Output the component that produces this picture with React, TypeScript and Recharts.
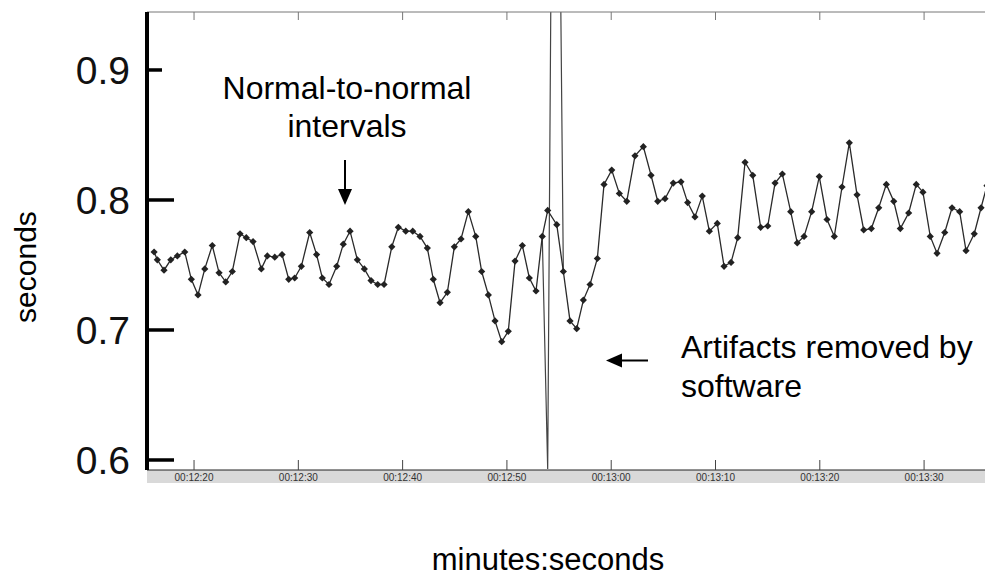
import React from "react";
import { LineChart, Line, XAxis, YAxis } from "recharts";

// beat times in seconds (12:20 = 740 s) and NN interval lengths in seconds
const beatTimes = [
  736.17, 736.48, 737.12, 737.77, 738.4, 739.11, 739.74, 740.38, 741.03, 741.75,
  742.4, 743.04, 743.67, 744.41, 745.01, 745.66, 746.45, 747.03, 747.74, 748.44,
  749.08, 749.65, 750.29, 751.09, 751.75, 752.3, 752.94, 753.68, 754.31, 754.96,
  755.66, 756.33, 756.97, 757.61, 758.22, 758.96, 759.59, 760.3, 760.97, 761.67,
  762.37, 762.94, 763.59, 764.29, 764.96, 765.6, 766.3, 767.01, 767.58, 768.22,
  768.86, 769.5, 770.13, 770.78, 771.48, 772.15, 772.79, 773.39, 773.91, 774.78,
  775.41, 776.05, 776.69, 777.33, 777.97, 778.67, 779.31, 780.05, 780.78, 781.49,
  782.28, 783.08, 783.82, 784.46, 785.16, 785.95, 786.69, 787.33, 788.03, 788.73,
  789.41, 790.17, 790.82, 791.49, 792.13, 792.83, 793.57, 794.33, 795.01, 795.71,
  796.41, 797.21, 797.84, 798.49, 799.22, 799.95, 800.69, 801.39, 802.13, 802.83,
  803.57, 804.21, 804.94, 805.65, 806.38, 807.09, 807.72, 808.52, 809.25, 809.89,
  810.59, 811.24, 811.98, 812.68, 813.41, 814.02, 814.81, 815.46, 816.03,
];
const nnIntervals = [
  0.76, 0.754, 0.746, 0.754, 0.757, 0.76, 0.739, 0.727, 0.747, 0.765,
  0.744, 0.737, 0.745, 0.774, 0.771, 0.768, 0.747, 0.757, 0.756, 0.758,
  0.739, 0.74, 0.749, 0.775, 0.758, 0.74, 0.735, 0.749, 0.766, 0.776,
  0.754, 0.747, 0.738, 0.735, 0.735, 0.764, 0.779, 0.776, 0.776, 0.772,
  0.763, 0.739, 0.721, 0.729, 0.764, 0.77, 0.791, 0.772, 0.745, 0.727,
  0.707, 0.691, 0.699, 0.753, 0.765, 0.74, 0.73, 0.772, 0.792, 0.781,
  0.745, 0.707, 0.701, 0.723, 0.735, 0.755, 0.812, 0.823, 0.805, 0.799,
  0.834, 0.841, 0.819, 0.799, 0.801, 0.813, 0.814, 0.798, 0.787, 0.803,
  0.776, 0.782, 0.749, 0.752, 0.771, 0.829, 0.819, 0.779, 0.78, 0.813,
  0.82, 0.791, 0.767, 0.772, 0.791, 0.818, 0.785, 0.772, 0.81, 0.844,
  0.804, 0.777, 0.778, 0.794, 0.812, 0.799, 0.778, 0.79, 0.812, 0.806,
  0.772, 0.759, 0.775, 0.794, 0.791, 0.761, 0.774, 0.794, 0.811,
];

// the uncorrected artifact beat
const rawTimes = [773.39, 773.91, 774.6, 775.41];
const rawIntervals = [0.772, 0.593, 1.42, 0.745];

const xTicks = [740, 750, 760, 770, 780, 790, 800, 810];
const yTicks = [0.6, 0.7, 0.8, 0.9];

const nnData = beatTimes.map((t, i) => ({ t, v: nnIntervals[i] }));
const rawData = rawTimes.map((t, i) => ({ t, v: rawIntervals[i] }));

const FONT = "'Liberation Sans', Arial, sans-serif";

function fmtTime(s: number) {
  const m = Math.floor(s / 60);
  const sec = Math.round(s - m * 60);
  return `00:${m}:${String(sec).padStart(2, "0")}`;
}

function BottomTick(props: any) {
  const { x, y, payload } = props;
  return (
    <g>
      <line x1={x} x2={x} y1={y - 10} y2={y} stroke="#444" strokeWidth={1} />
      <text x={x} y={y + 11} textAnchor="middle" fontSize={10} fill="#333" fontFamily={FONT}>
        {fmtTime(payload.value)}
      </text>
    </g>
  );
}

function TopTick(props: any) {
  const { x, y } = props;
  return <line x1={x} x2={x} y1={y} y2={y + 8} stroke="#777" strokeWidth={1} />;
}

function LeftTick(props: any) {
  const { x, y, payload } = props;
  const len = payload.value > 0.85 ? 15 : 27;
  return (
    <g>
      <line x1={x} x2={x + len} y1={y} y2={y} stroke="#000" strokeWidth={3.5} />
      <text x={x - 17} y={y} dy="0.36em" textAnchor="end" fontSize={39} fill="#111" fontFamily={FONT}>
        {payload.value.toFixed(1)}
      </text>
    </g>
  );
}

function Diamond(props: any) {
  const { cx, cy, index } = props;
  if (cx == null || cy == null) return <g key={`d-${index}`} />;
  const r = 3.6;
  return (
    <polygon
      key={`d-${index}`}
      points={`${cx},${cy - r} ${cx + r},${cy} ${cx},${cy + r} ${cx - r},${cy}`}
      fill="#222"
    />
  );
}

export default function App() {
  return (
    <div style={{ position: "relative", width: 985, height: 577, background: "#fff", overflow: "hidden" }}>
      <style>{"body{margin:0}"}</style>
      <svg width={985} height={577} style={{ position: "absolute", left: 0, top: 0 }}>
        <rect x={147} y={470} width={838} height={13} fill="#d9d9d9" />
      </svg>
      <div style={{ position: "absolute", left: 0, top: 0 }}>
        <LineChart width={985} height={577} margin={{ top: 0, right: 0, bottom: 0, left: 0 }}>
          <XAxis
            xAxisId="top"
            orientation="top"
            type="number"
            dataKey="t"
            domain={[735.49, 815.84]}
            allowDataOverflow
            ticks={xTicks}
            height={12}
            tickSize={0}
            tickMargin={0}
            tickLine={false}
            tick={<TopTick />}
            axisLine={{ stroke: "#777", strokeWidth: 1 }}
          />
          <XAxis
            type="number"
            dataKey="t"
            domain={[735.49, 815.84]}
            allowDataOverflow
            ticks={xTicks}
            height={107}
            tickSize={0}
            tickMargin={0}
            tickLine={false}
            tick={<BottomTick />}
            axisLine={{ stroke: "#222", strokeWidth: 1 }}
          />
          <YAxis
            type="number"
            domain={[0.5923, 0.9446]}
            allowDataOverflow
            ticks={yTicks}
            width={147}
            tickSize={0}
            tickMargin={0}
            tickLine={false}
            tick={<LeftTick />}
            axisLine={{ stroke: "#000", strokeWidth: 4 }}
          />
          <Line
            data={rawData}
            dataKey="v"
            stroke="#444"
            strokeWidth={1.2}
            dot={false}
            isAnimationActive={false}
          />
          <Line
            data={nnData}
            dataKey="v"
            stroke="#2a2a2a"
            strokeWidth={1.3}
            dot={(p: any) => <Diamond {...p} />}
            activeDot={false}
            isAnimationActive={false}
          />
        </LineChart>
      </div>
      <svg width={985} height={577} style={{ position: "absolute", left: 0, top: 0, pointerEvents: "none" }} fontFamily={FONT}>
        <text x={347} y={99} textAnchor="middle" fontSize={32} fill="#000">Normal-to-normal</text>
        <text x={347} y={137} textAnchor="middle" fontSize={32} fill="#000">intervals</text>
        <line x1={345} x2={345} y1={160} y2={190} stroke="#000" strokeWidth={2} />
        <polygon points="338,189 352,189 345,205" fill="#000" />
        <text x={681} y={358} fontSize={32} fill="#000">Artifacts removed by</text>
        <text x={681} y={397} fontSize={32} fill="#000">software</text>
        <line x1={620} x2={648} y1={360.5} y2={360.5} stroke="#000" strokeWidth={2} />
        <polygon points="622,353.5 622,367.5 606,360.5" fill="#000" />
        <text x={36} y={267} textAnchor="middle" fontSize={30} fill="#000" transform="rotate(-90 36 267)">seconds</text>
        <text x={548} y={570} textAnchor="middle" fontSize={31} fill="#000">minutes:seconds</text>
      </svg>
    </div>
  );
}
